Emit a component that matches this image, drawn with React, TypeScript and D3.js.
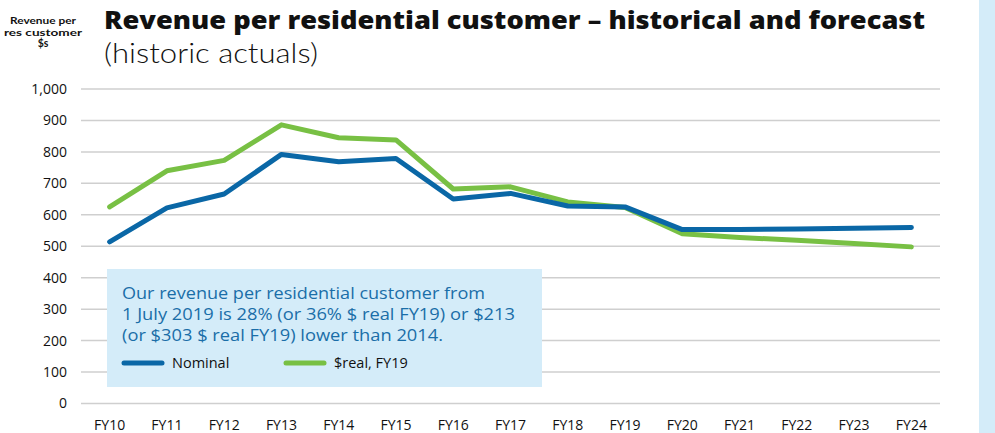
import React from "react";
import * as d3 from "d3";

const categories = ["FY10","FY11","FY12","FY13","FY14","FY15","FY16","FY17","FY18","FY19","FY20","FY21","FY22","FY23","FY24"];
const nominal = [514, 622, 666, 792, 769, 779, 650, 668, 628, 625, 553, 553, 555, 557, 560];
const real = [625, 740, 773, 886, 845, 838, 682, 689, 641, 623, 540, 528, 519, 509, 498];
const yTicks = [0, 100, 200, 300, 400, 500, 600, 700, 800, 900, 1000];

const BLUE = "#0a67a6";
const GREEN = "#78c044";
const FONT = "'Open Sans', Lato, sans-serif";

export default function App() {
  const W = 995, H = 433;
  const x = d3.scalePoint<string>().domain(categories).range([81, 940]).padding(0.5);
  const y = d3.scaleLinear().domain([0, 1000]).range([403.5, 89]);
  const line = d3.line<number>().x((_, i) => x(categories[i]) as number).y((d) => y(d));
  const fmt = d3.format(",");
  return (
    <svg width={W} height={H} style={{ position: "absolute", left: 0, top: 0, background: "#fff" }} fontFamily={FONT}>
      <rect x={979} y={0} width={16} height={H} fill="#d4ecf9" />
      <text x={43} y={24} textAnchor="middle" fontSize={9.5} fontWeight={700} fill="#111" fontFamily="Lato, sans-serif">
        <tspan x={43} dy={0} textLength={66} lengthAdjust="spacingAndGlyphs">Revenue per</tspan>
        <tspan x={43} dy={11.5} textLength={78} lengthAdjust="spacingAndGlyphs">res customer</tspan>
        <tspan x={43} dy={11.5} fontSize={10.5}>$s</tspan>
      </text>
      <text x={104} y={28.5} fontSize={24} fontWeight={800} fill="#111" textLength={821} lengthAdjust="spacingAndGlyphs">Revenue per residential customer – historical and forecast</text>
      <text x={104} y={62.5} fontSize={27} fontWeight={300} fill="#111" fontFamily="Lato, sans-serif" textLength={214} lengthAdjust="spacingAndGlyphs">(historic actuals)</text>
      {yTicks.map((t) => (
        <g key={t}>
          <line x1={81} x2={940} y1={y(t)} y2={y(t)} stroke="#cfcfcf" strokeWidth={1.5} />
          <text x={67} y={y(t)} dy="0.35em" textAnchor="end" fontSize={14} fill="#111">{fmt(t)}</text>
        </g>
      ))}
      {categories.map((c) => (
        <text key={c} x={x(c) as number} y={430} textAnchor="middle" fontSize={14} fill="#111">{c}</text>
      ))}
      <rect x={107} y={269} width={435} height={118} fill="#d4ecf9" />
      <text fontSize={16.5} fill="#1a6ea8">
        <tspan x={122} y={299} textLength={363} lengthAdjust="spacingAndGlyphs">Our revenue per residential customer from</tspan>
        <tspan x={122} y={320} textLength={393} lengthAdjust="spacingAndGlyphs">1 July 2019 is 28% (or 36% $ real FY19) or $213</tspan>
        <tspan x={122} y={341} textLength={321} lengthAdjust="spacingAndGlyphs">(or $303 $ real FY19) lower than 2014.</tspan>
      </text>
      <line x1={124} x2={162} y1={363} y2={363} stroke={BLUE} strokeWidth={5} strokeLinecap="round" />
      <text x={172} y={368} fontSize={14.5} fill="#111">Nominal</text>
      <line x1={286} x2={324} y1={363} y2={363} stroke={GREEN} strokeWidth={5} strokeLinecap="round" />
      <text x={334} y={368} fontSize={14.5} fill="#111">$real, FY19</text>
      <path d={line(real) || ""} fill="none" stroke={GREEN} strokeWidth={5} strokeLinecap="round" strokeLinejoin="round" />
      <path d={line(nominal) || ""} fill="none" stroke={BLUE} strokeWidth={5} strokeLinecap="round" strokeLinejoin="round" />
    </svg>
  );
}
